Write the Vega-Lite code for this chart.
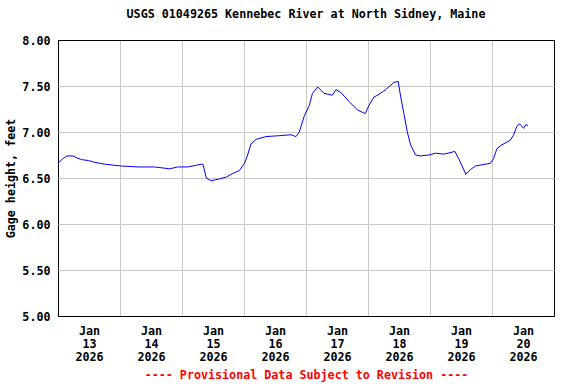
{
  "$schema": "https://vega.github.io/schema/vega-lite/v6.json",
  "autosize": "none",
  "width": 496,
  "height": 276,
  "padding": {"left": 58, "top": 40, "right": 22, "bottom": 68},
  "background": "white",
  "title": {
    "text": "USGS 01049265 Kennebec River at North Sidney, Maine",
    "font": "DejaVu Sans Mono",
    "fontSize": 11.7,
    "fontWeight": "bold",
    "color": "black",
    "anchor": "middle",
    "offset": 14
  },
  "config": {
    "view": {"stroke": "black", "strokeWidth": 1},
    "axis": {
      "labelFont": "DejaVu Sans Mono",
      "labelFontSize": 11.7,
      "labelFontWeight": "bold",
      "labelColor": "black",
      "titleFont": "DejaVu Sans Mono",
      "titleFontSize": 11.7,
      "titleFontWeight": "bold",
      "titleColor": "black",
      "gridWidth": 1,
      "ticks": false,
      "domain": false
    }
  },
  "data": {
    "values": [
      {"t": "2026-01-13T00:00:00Z", "h": 6.66},
      {"t": "2026-01-13T01:54:00Z", "h": 6.71},
      {"t": "2026-01-13T03:30:00Z", "h": 6.74},
      {"t": "2026-01-13T05:48:00Z", "h": 6.74},
      {"t": "2026-01-13T07:12:00Z", "h": 6.72},
      {"t": "2026-01-13T09:06:00Z", "h": 6.70},
      {"t": "2026-01-13T11:42:00Z", "h": 6.69},
      {"t": "2026-01-13T14:18:00Z", "h": 6.67},
      {"t": "2026-01-13T18:06:00Z", "h": 6.65},
      {"t": "2026-01-14T00:36:00Z", "h": 6.63},
      {"t": "2026-01-14T07:00:00Z", "h": 6.62},
      {"t": "2026-01-14T13:24:00Z", "h": 6.62},
      {"t": "2026-01-14T19:12:00Z", "h": 6.60},
      {"t": "2026-01-14T22:18:00Z", "h": 6.62},
      {"t": "2026-01-15T02:18:00Z", "h": 6.62},
      {"t": "2026-01-15T07:30:00Z", "h": 6.65},
      {"t": "2026-01-15T08:06:00Z", "h": 6.65},
      {"t": "2026-01-15T09:24:00Z", "h": 6.50},
      {"t": "2026-01-15T11:18:00Z", "h": 6.47},
      {"t": "2026-01-15T14:30:00Z", "h": 6.49},
      {"t": "2026-01-15T17:06:00Z", "h": 6.51},
      {"t": "2026-01-15T19:42:00Z", "h": 6.55},
      {"t": "2026-01-15T22:12:00Z", "h": 6.58},
      {"t": "2026-01-16T00:12:00Z", "h": 6.66},
      {"t": "2026-01-16T01:24:00Z", "h": 6.75},
      {"t": "2026-01-16T02:42:00Z", "h": 6.87},
      {"t": "2026-01-16T04:42:00Z", "h": 6.92},
      {"t": "2026-01-16T08:30:00Z", "h": 6.95},
      {"t": "2026-01-16T13:42:00Z", "h": 6.96},
      {"t": "2026-01-16T18:12:00Z", "h": 6.97},
      {"t": "2026-01-16T20:06:00Z", "h": 6.95},
      {"t": "2026-01-16T21:24:00Z", "h": 7.00},
      {"t": "2026-01-16T23:18:00Z", "h": 7.17},
      {"t": "2026-01-17T01:18:00Z", "h": 7.29},
      {"t": "2026-01-17T02:30:00Z", "h": 7.42},
      {"t": "2026-01-17T04:30:00Z", "h": 7.49},
      {"t": "2026-01-17T07:00:00Z", "h": 7.42},
      {"t": "2026-01-17T10:12:00Z", "h": 7.40},
      {"t": "2026-01-17T11:36:00Z", "h": 7.46},
      {"t": "2026-01-17T13:30:00Z", "h": 7.43},
      {"t": "2026-01-17T16:42:00Z", "h": 7.33},
      {"t": "2026-01-17T19:54:00Z", "h": 7.24},
      {"t": "2026-01-17T22:54:00Z", "h": 7.20},
      {"t": "2026-01-18T00:24:00Z", "h": 7.29},
      {"t": "2026-01-18T02:18:00Z", "h": 7.38},
      {"t": "2026-01-18T04:18:00Z", "h": 7.41},
      {"t": "2026-01-18T06:48:00Z", "h": 7.46},
      {"t": "2026-01-18T10:06:00Z", "h": 7.54},
      {"t": "2026-01-18T11:42:00Z", "h": 7.55},
      {"t": "2026-01-18T12:36:00Z", "h": 7.39},
      {"t": "2026-01-18T13:54:00Z", "h": 7.20},
      {"t": "2026-01-18T15:12:00Z", "h": 7.00},
      {"t": "2026-01-18T16:30:00Z", "h": 6.86},
      {"t": "2026-01-18T18:24:00Z", "h": 6.75},
      {"t": "2026-01-18T20:24:00Z", "h": 6.74},
      {"t": "2026-01-18T23:36:00Z", "h": 6.75},
      {"t": "2026-01-19T02:06:00Z", "h": 6.77},
      {"t": "2026-01-19T05:18:00Z", "h": 6.76},
      {"t": "2026-01-19T08:30:00Z", "h": 6.78},
      {"t": "2026-01-19T09:36:00Z", "h": 6.79},
      {"t": "2026-01-19T11:06:00Z", "h": 6.71},
      {"t": "2026-01-19T13:54:00Z", "h": 6.54},
      {"t": "2026-01-19T15:36:00Z", "h": 6.59},
      {"t": "2026-01-19T17:36:00Z", "h": 6.63},
      {"t": "2026-01-19T21:24:00Z", "h": 6.65},
      {"t": "2026-01-19T23:24:00Z", "h": 6.66},
      {"t": "2026-01-20T00:36:00Z", "h": 6.71},
      {"t": "2026-01-20T01:54:00Z", "h": 6.82},
      {"t": "2026-01-20T03:48:00Z", "h": 6.86},
      {"t": "2026-01-20T05:48:00Z", "h": 6.89},
      {"t": "2026-01-20T07:06:00Z", "h": 6.91},
      {"t": "2026-01-20T08:24:00Z", "h": 6.97},
      {"t": "2026-01-20T09:36:00Z", "h": 7.06},
      {"t": "2026-01-20T10:36:00Z", "h": 7.09},
      {"t": "2026-01-20T12:12:00Z", "h": 7.04},
      {"t": "2026-01-20T13:06:00Z", "h": 7.08},
      {"t": "2026-01-20T13:54:00Z", "h": 7.07}
    ]
  },
  "mark": {"type": "line", "stroke": "#0000ff", "strokeWidth": 1, "interpolate": "linear"},
  "encoding": {
    "x": {
      "field": "t",
      "type": "temporal",
      "scale": {
        "type": "utc",
        "domain": [
          {"year": 2026, "month": 1, "date": 13, "utc": true},
          {"year": 2026, "month": 1, "date": 21, "utc": true}
        ]
      },
      "axis": {
        "values": [
          {"year": 2026, "month": 1, "date": 13, "utc": true},
          {"year": 2026, "month": 1, "date": 14, "utc": true},
          {"year": 2026, "month": 1, "date": 15, "utc": true},
          {"year": 2026, "month": 1, "date": 16, "utc": true},
          {"year": 2026, "month": 1, "date": 17, "utc": true},
          {"year": 2026, "month": 1, "date": 18, "utc": true},
          {"year": 2026, "month": 1, "date": 19, "utc": true},
          {"year": 2026, "month": 1, "date": 20, "utc": true}
        ],
        "gridColor": {"condition": {"test": "utcdate(datum.value) == 13", "value": "black"}, "value": "#c8c8c8"},
        "labelExpr": "[utcFormat(datum.value, '%b'), utcFormat(datum.value, '%d'), utcFormat(datum.value, '%Y')]",
        "labelOffset": 31,
        "labelPadding": 9,
        "labelLineHeight": 13,
        "labelOverlap": false,
        "labelFlush": false,
        "labelBound": false,
        "title": "---- Provisional Data Subject to Revision ----",
        "titleColor": "#ff0000",
        "titlePadding": 7
      }
    },
    "y": {
      "field": "h",
      "type": "quantitative",
      "scale": {"domain": [5, 8], "nice": false, "zero": false},
      "axis": {
        "values": [5, 5.5, 6, 6.5, 7, 7.5, 8],
        "gridColor": {"condition": {"test": "datum.value == 5 || datum.value == 8", "value": "black"}, "value": "#c8c8c8"},
        "format": ".2f",
        "labelPadding": 8,
        "title": "Gage height, feet",
        "titlePadding": 5
      }
    }
  }
}
